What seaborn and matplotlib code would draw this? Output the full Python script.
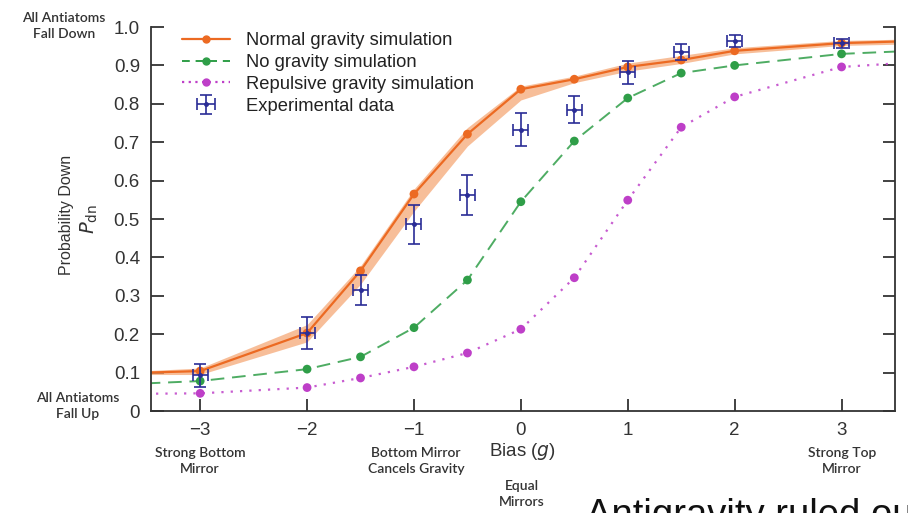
import matplotlib
matplotlib.use('Agg')
import matplotlib.pyplot as plt
import seaborn as sns
import numpy as np
import pandas as pd
from matplotlib.lines import Line2D

# simulation curves (edge values at -3.5 / 3.5 carry the line to the axis frame)
bias = [-3.5, -3, -2, -1.5, -1, -0.5, 0, 0.5, 1, 1.5, 2, 3, 3.5]
normal = [0.100, 0.104, 0.203, 0.365, 0.565, 0.721, 0.838, 0.864, 0.896, 0.914, 0.938, 0.958, 0.962]
normal_lo = [0.095, 0.095, 0.180, 0.330, 0.520, 0.690, 0.810, 0.855, 0.885, 0.905, 0.930, 0.952, 0.955]
normal_hi = [0.105, 0.112, 0.225, 0.378, 0.578, 0.738, 0.846, 0.872, 0.906, 0.926, 0.946, 0.965, 0.968]
no_grav = [0.072, 0.078, 0.109, 0.141, 0.217, 0.341, 0.545, 0.703, 0.815, 0.880, 0.900, 0.930, 0.936]
repulsive = [0.045, 0.046, 0.061, 0.086, 0.115, 0.151, 0.213, 0.347, 0.549, 0.739, 0.818, 0.896, 0.905]

# experimental data
exp_bias = [-3, -2, -1.5, -1, -0.5, 0, 0.5, 1, 1.5, 2, 3]
exp_p = [0.093, 0.203, 0.315, 0.486, 0.563, 0.733, 0.785, 0.882, 0.935, 0.964, 0.958]
exp_yerr = [0.030, 0.042, 0.040, 0.050, 0.052, 0.042, 0.035, 0.030, 0.020, 0.015, 0.012]
exp_xerr = [0.07] * 11

tick_x = [-3, -2, -1, 0, 1, 2, 3]
tick_y = [0, 0.1, 0.2, 0.3, 0.4, 0.5, 0.6, 0.7, 0.8, 0.9, 1.0]

c_orange = '#EC6A22'
c_band = '#F5A36E'
c_green = '#2F9E48'
c_mag = '#BE3FC8'
c_blue = '#2A2C96'

sns.set_style('ticks')
plt.rcParams['font.family'] = ['Liberation Sans', 'DejaVu Sans']

df = pd.DataFrame({'bias': bias, 'normal': normal, 'no_grav': no_grav, 'repulsive': repulsive})
pts = df.iloc[1:-1]

fig = plt.figure(figsize=(9.08, 5.13), dpi=100)
ax = fig.add_axes([151 / 908, 102 / 513, 744 / 908, 384 / 513])

ax.fill_between(bias, normal_lo, normal_hi, color=c_band, alpha=0.7, linewidth=0)
sns.lineplot(data=df, x='bias', y='normal', ax=ax, color=c_orange, lw=1.6)
sns.lineplot(data=df, x='bias', y='no_grav', ax=ax, color=c_green, lw=1.4,
             linestyle=(0, (7, 4)), alpha=0.85)
sns.lineplot(data=df, x='bias', y='repulsive', ax=ax, color=c_mag, lw=1.6,
             linestyle=(0, (1, 3.2)), alpha=0.85)
sns.scatterplot(data=pts, x='bias', y='normal', ax=ax, color=c_orange, s=40, edgecolor='none', zorder=4)
sns.scatterplot(data=pts, x='bias', y='no_grav', ax=ax, color=c_green, s=40, edgecolor='none', zorder=4)
sns.scatterplot(data=pts, x='bias', y='repulsive', ax=ax, color=c_mag, s=40, edgecolor='none', zorder=4)

eb = ax.errorbar(exp_bias, exp_p, yerr=exp_yerr, xerr=exp_xerr, fmt='o', ms=2.5, color=c_blue,
                 ecolor=c_blue, elinewidth=1.2, capsize=4.5, capthick=1.2, zorder=5)

ax.set_xlim(-3.46, 3.5)
ax.set_ylim(0, 1.0)
ax.set_xticks(tick_x)
ax.set_xticklabels(['\u22123', '\u22122', '\u22121', '0', '1', '2', '3'])
ax.set_yticks(tick_y)
ax.set_yticklabels(['0'] + ['%.1f' % v for v in tick_y[1:]])
ax.set_xlabel('')
ax.set_ylabel('')
ax.tick_params(axis='both', direction='in', length=9, width=1.3, labelsize=13.5,
               color='#333333', labelcolor='#333333', pad=8)
ax.tick_params(axis='y', right=True)
ax.spines['top'].set_visible(False)
for s in ['left', 'right', 'bottom']:
    ax.spines[s].set_linewidth(1.3)
    ax.spines[s].set_color('#333333')

handles = [
    Line2D([], [], color=c_orange, lw=1.6, marker='o', ms=5),
    Line2D([], [], color=c_green, lw=1.4, ls=(0, (4, 3)), marker='o', ms=5),
    Line2D([], [], color=c_mag, lw=1.6, ls=(0, (1, 2)), marker='o', ms=5),
    eb,
]
labels = ['Normal gravity simulation', 'No gravity simulation',
          'Repulsive gravity simulation', 'Experimental data']
ax.legend(handles, labels, loc='upper left', bbox_to_anchor=(0.02, 1.03), frameon=False,
          fontsize=13.2, handlelength=2.6, handletextpad=0.85, labelspacing=0.27,
          labelcolor='#222222')

side = dict(family=['Lato', 'DejaVu Sans'], fontsize=10, color='#333333', weight='semibold',
            ha='center', va='center', linespacing=1.45)
fig.text(64 / 908, 1 - 26 / 513, 'All Antiatoms\nFall Down', **side)
fig.text(78 / 908, 1 - 406 / 513, 'All Antiatoms\nFall Up', **side)
fig.text(200 / 908, 1 - 461 / 513, 'Strong Bottom\nMirror', **side)
fig.text(416 / 908, 1 - 461 / 513, 'Bottom Mirror\nCancels Gravity', **side)
fig.text(522 / 908, 1 - 494 / 513, 'Equal\nMirrors', **side)
fig.text(842 / 908, 1 - 461 / 513, 'Strong Top\nMirror', **side)
fig.text(522 / 908, 1 - 452 / 513, 'Bias ($g$)', fontsize=13.5, color='#333333', ha='center', va='center')
fig.text(66 / 908, 1 - 215 / 513, 'Probability Down', rotation=90, fontsize=11.5,
         color='#333333', ha='center', va='center')
fig.text(89 / 908, 1 - 219 / 513, '$P_{\\rm dn}$', rotation=90, fontsize=14, color='#333333',
         ha='center', va='center')
# headline is cropped by the bottom/right edge in the reference screenshot
fig.text(586 / 908, 1 - 498 / 513, 'Antigravity ruled out', fontsize=27.5, color='#111111',
         ha='left', va='top')

fig.savefig('out.png', dpi=100)
